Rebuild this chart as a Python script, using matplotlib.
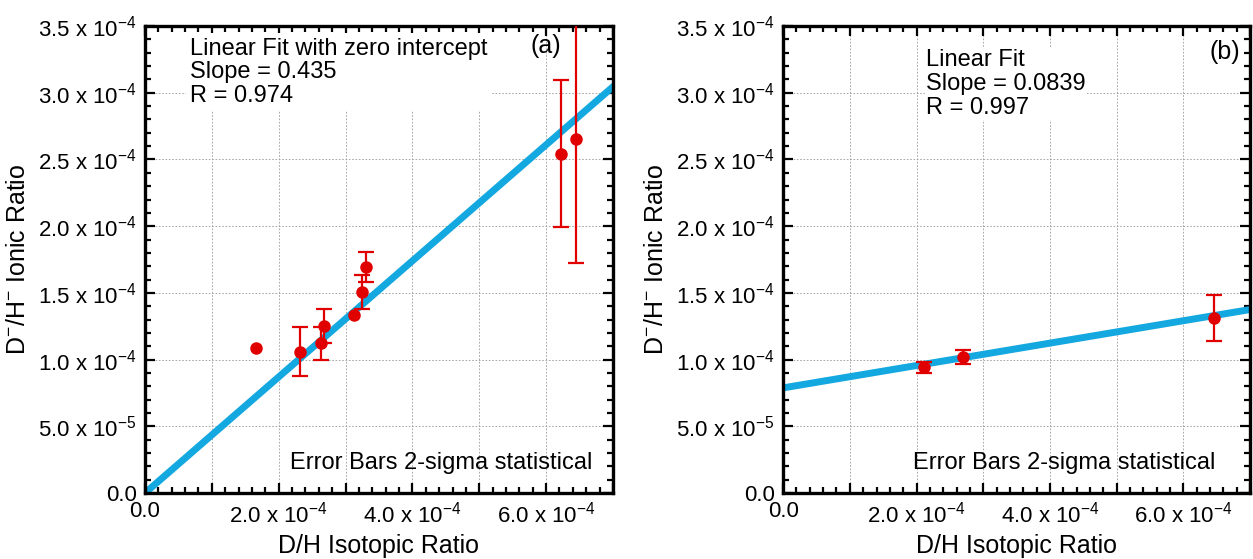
import numpy as np
import matplotlib
matplotlib.use('Agg')
import matplotlib.pyplot as plt
from matplotlib.ticker import MultipleLocator, FuncFormatter

plt.rcParams['font.family'] = ['Liberation Sans', 'DejaVu Sans']
plt.rcParams['mathtext.fontset'] = 'custom'
plt.rcParams['mathtext.rm'] = 'Liberation Sans'
plt.rcParams['mathtext.default'] = 'regular'

# panel (a) data
a_x = [1.66e-4, 2.32e-4, 2.63e-4, 2.68e-4, 3.13e-4, 3.24e-4, 3.31e-4, 6.23e-4, 6.45e-4]
a_y = [1.087e-4, 1.060e-4, 1.123e-4, 1.253e-4, 1.335e-4, 1.507e-4, 1.695e-4, 2.543e-4, 2.653e-4]
a_err = [0.0, 0.182e-4, 0.125e-4, 0.127e-4, 0.0, 0.13e-4, 0.11e-4, 0.55e-4, 0.93e-4]
a_slope = 0.435
a_icpt = 0.0

# panel (b) data
b_x = [2.11e-4, 2.70e-4, 6.46e-4]
b_y = [0.942e-4, 1.020e-4, 1.313e-4]
b_err = [0.04e-4, 0.05e-4, 0.172e-4]
b_slope = 0.0839
b_icpt = 0.788e-4

fit_x = [0.0, 7.2e-4]


def sci_fmt(v, pos):
    if abs(v) < 1e-12:
        return '0.0'
    if v < 0:
        return ''
    e = int(np.floor(np.log10(v) + 1e-9))
    m = v / 10**e
    return f'{m:.1f} x 10$^{{{e}}}$'


def x_fmt(v, pos):
    k = int(round(v / 1e-4))
    if k % 2 == 1:
        return ''
    return sci_fmt(v, pos)


fig = plt.figure(figsize=(12.53, 5.59), dpi=100)
ax1 = fig.add_axes([0.1157, 0.118, 0.3735, 0.8354])
ax2 = fig.add_axes([0.625, 0.118, 0.3727, 0.8354])


def style(ax):
    ax.set_xlim(0, 7e-4)
    ax.set_ylim(0, 3.5e-4)
    ax.xaxis.set_major_locator(MultipleLocator(1e-4))
    ax.xaxis.set_minor_locator(MultipleLocator(0.2e-4))
    ax.yaxis.set_major_locator(MultipleLocator(0.5e-4))
    ax.yaxis.set_minor_locator(MultipleLocator(0.1e-4))
    ax.xaxis.set_major_formatter(FuncFormatter(x_fmt))
    ax.yaxis.set_major_formatter(FuncFormatter(sci_fmt))
    ax.tick_params(which='both', direction='in', top=True, right=True,
                   width=1.6, labelsize=16)
    ax.tick_params(which='major', length=7)
    ax.tick_params(axis='x', which='major', pad=6)
    ax.tick_params(axis='y', which='major', pad=6)
    ax.tick_params(which='minor', length=4)
    for s in ax.spines.values():
        s.set_linewidth(2.4)
    ax.grid(True, which='major', color='#9a9a9a', linestyle=(0, (2, 2)), linewidth=0.6)
    ax.set_axisbelow(True)
    ax.set_xlabel('D/H Isotopic Ratio', fontsize=18, labelpad=5)
    ax.set_ylabel('D$^{-}$/H$^{-}$ Ionic Ratio', fontsize=18, labelpad=6)


def draw_points(ax, xs, ys, errs):
    xs, ys, errs = np.array(xs), np.array(ys), np.array(errs)
    has = errs > 0
    ax.errorbar(xs[has], ys[has], yerr=errs[has], fmt='none', ecolor='#e00000',
                elinewidth=1.6, capsize=5.5, capthick=1.6, zorder=3)
    ax.plot(xs, ys, 'o', color='#e00000', ms=8, zorder=4)


style(ax1)
style(ax2)

fx = np.array(fit_x)
ax1.plot(fx, a_icpt + a_slope * fx, color='#13a8e0', lw=5, zorder=2)
draw_points(ax1, a_x, a_y, a_err)
ax2.plot(fx, b_icpt + b_slope * fx, color='#13a8e0', lw=5, zorder=2)
draw_points(ax2, b_x, b_y, b_err)

ax1.text(0.096, 0.975, 'Linear Fit with zero intercept\nSlope = 0.435\nR = 0.974',
         transform=ax1.transAxes, fontsize=17, va='top', ha='left',
         linespacing=1.1, bbox=dict(facecolor='white', edgecolor='none', pad=3))
ax1.text(0.89, 0.957, '(a)', transform=ax1.transAxes, fontsize=18, va='center', ha='right')
ax1.text(0.955, 0.065, 'Error Bars 2-sigma statistical', transform=ax1.transAxes,
         fontsize=17, va='center', ha='right')

ax2.text(0.306, 0.95, 'Linear Fit\nSlope = 0.0839\nR = 0.997',
         transform=ax2.transAxes, fontsize=17, va='top', ha='left',
         linespacing=1.1, bbox=dict(facecolor='white', edgecolor='none', pad=1))
ax2.text(0.979, 0.944, '(b)', transform=ax2.transAxes, fontsize=18, va='center', ha='right')
ax2.text(0.925, 0.065, 'Error Bars 2-sigma statistical', transform=ax2.transAxes,
         fontsize=17, va='center', ha='right')

fig.savefig('out.png', dpi=100)
